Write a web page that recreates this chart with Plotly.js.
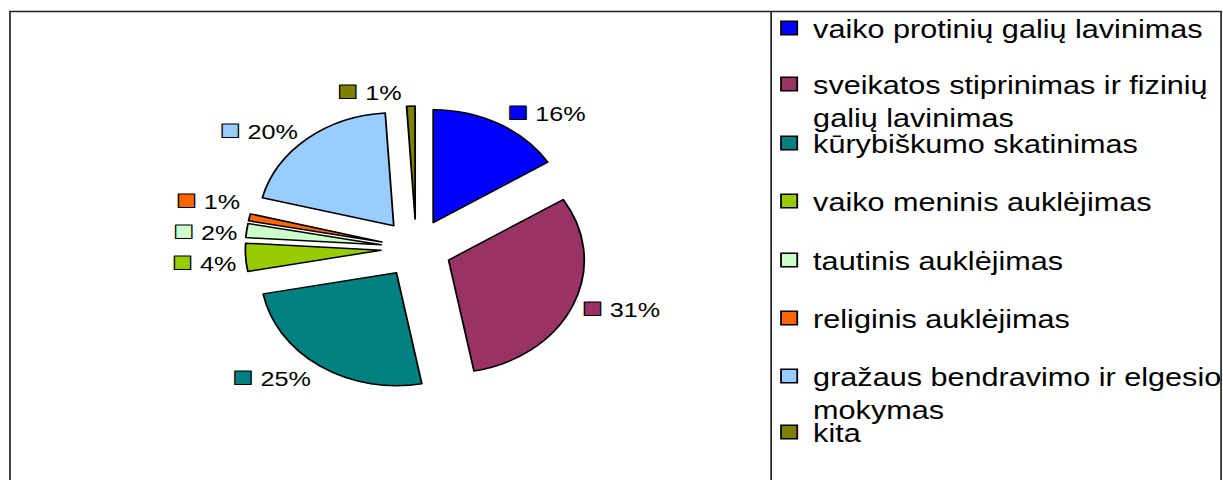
<!DOCTYPE html>
<html><head><meta charset="utf-8">
<script src="https://cdn.plot.ly/plotly-3.0.1.min.js"></script>
<style>
html,body{margin:0;padding:0;background:#fff;overflow:hidden;}
#chart{width:1019px;height:480px;transform:scaleX(1.2002);transform-origin:0 0;}
path.textline{display:none;}
</style></head><body><div id="chart"></div>
<script>
const categories = [
  'vaiko protinių galių lavinimas',
  'sveikatos stiprinimas ir fizinių<br>galių lavinimas',
  'kūrybiškumo skatinimas',
  'vaiko meninis auklėjimas',
  'tautinis auklėjimas',
  'religinis auklėjimas',
  'gražaus bendravimo ir elgesio<br>mokymas',
  'kita'
];
const values = [16, 31, 25, 4, 2, 1, 20, 1];
const colors = ['#0000FF', '#993366', '#008080', '#99CC00', '#CCFFCC', '#FF6600', '#99CCFF', '#808000'];

// the chart is laid out at 1019 px wide and stretched horizontally to 1223 px,
// as the reference image is
const W = 1019, H = 480;
const FONT = 'Liberation Sans, Arial, sans-serif';

const traces = [{
  type: 'pie',
  values: values,
  labels: categories,
  sort: false,
  direction: 'clockwise',
  rotation: 0,
  pull: 0.26,
  marker: {colors: colors, line: {color: '#000', width: 1.5}},
  textposition: 'outside',
  texttemplate: colors.map(c => "<span style='font-size:28px;color:" + c + ";stroke:#000;stroke-width:1.1px'>■</span> %{value}%"),
  outsidetextfont: {family: FONT, size: 21, color: '#000'},
  showlegend: false,
  hoverinfo: 'label+percent',
  domain: {x: [204.4 / W, 489.2 / W], y: [89.2 / H, 374.0 / H]}
}];

const legendTops = [5, 61, 120, 178, 237, 295, 353, 409];
const layout = {
  width: W, height: H,
  margin: {l: 0, r: 0, t: 0, b: 0, autoexpand: false},
  paper_bgcolor: '#fff', plot_bgcolor: '#fff',
  xaxis: {visible: false}, yaxis: {visible: false},
  shapes: [
    {type: 'rect', xref: 'paper', yref: 'paper', x0: 8.3 / W, x1: 1017.4 / W, y0: -0.2, y1: 1 - 11.5 / H,
     line: {color: '#222', width: 1.4}},
    {type: 'line', xref: 'paper', yref: 'paper', x0: 642.5 / W, x1: 642.5 / W, y0: -0.2, y1: 1 - 11.5 / H,
     line: {color: '#222', width: 1.4}}
  ]
};

categories.forEach((c, i) => {
  const key = i === 0 ? 'legend' : 'legend' + (i + 1);
  traces.push({
    type: 'scatter', x: [null], y: [null], mode: 'markers', name: c,
    marker: {symbol: 'square', size: 13.5, color: colors[i], line: {color: '#000', width: 1.5}},
    legend: key, showlegend: true, hoverinfo: 'skip'
  });
  layout[key] = {
    x: 637.5 / W, xanchor: 'left', y: 1 - legendTops[i] / H, yanchor: 'top',
    bgcolor: 'rgba(0,0,0,0)', borderwidth: 0, valign: 'top',
    font: {family: FONT, size: 25.5, color: '#000'}
  };
});

Plotly.newPlot('chart', traces, layout, {displayModeBar: false, staticPlot: true});
</script></body></html>
